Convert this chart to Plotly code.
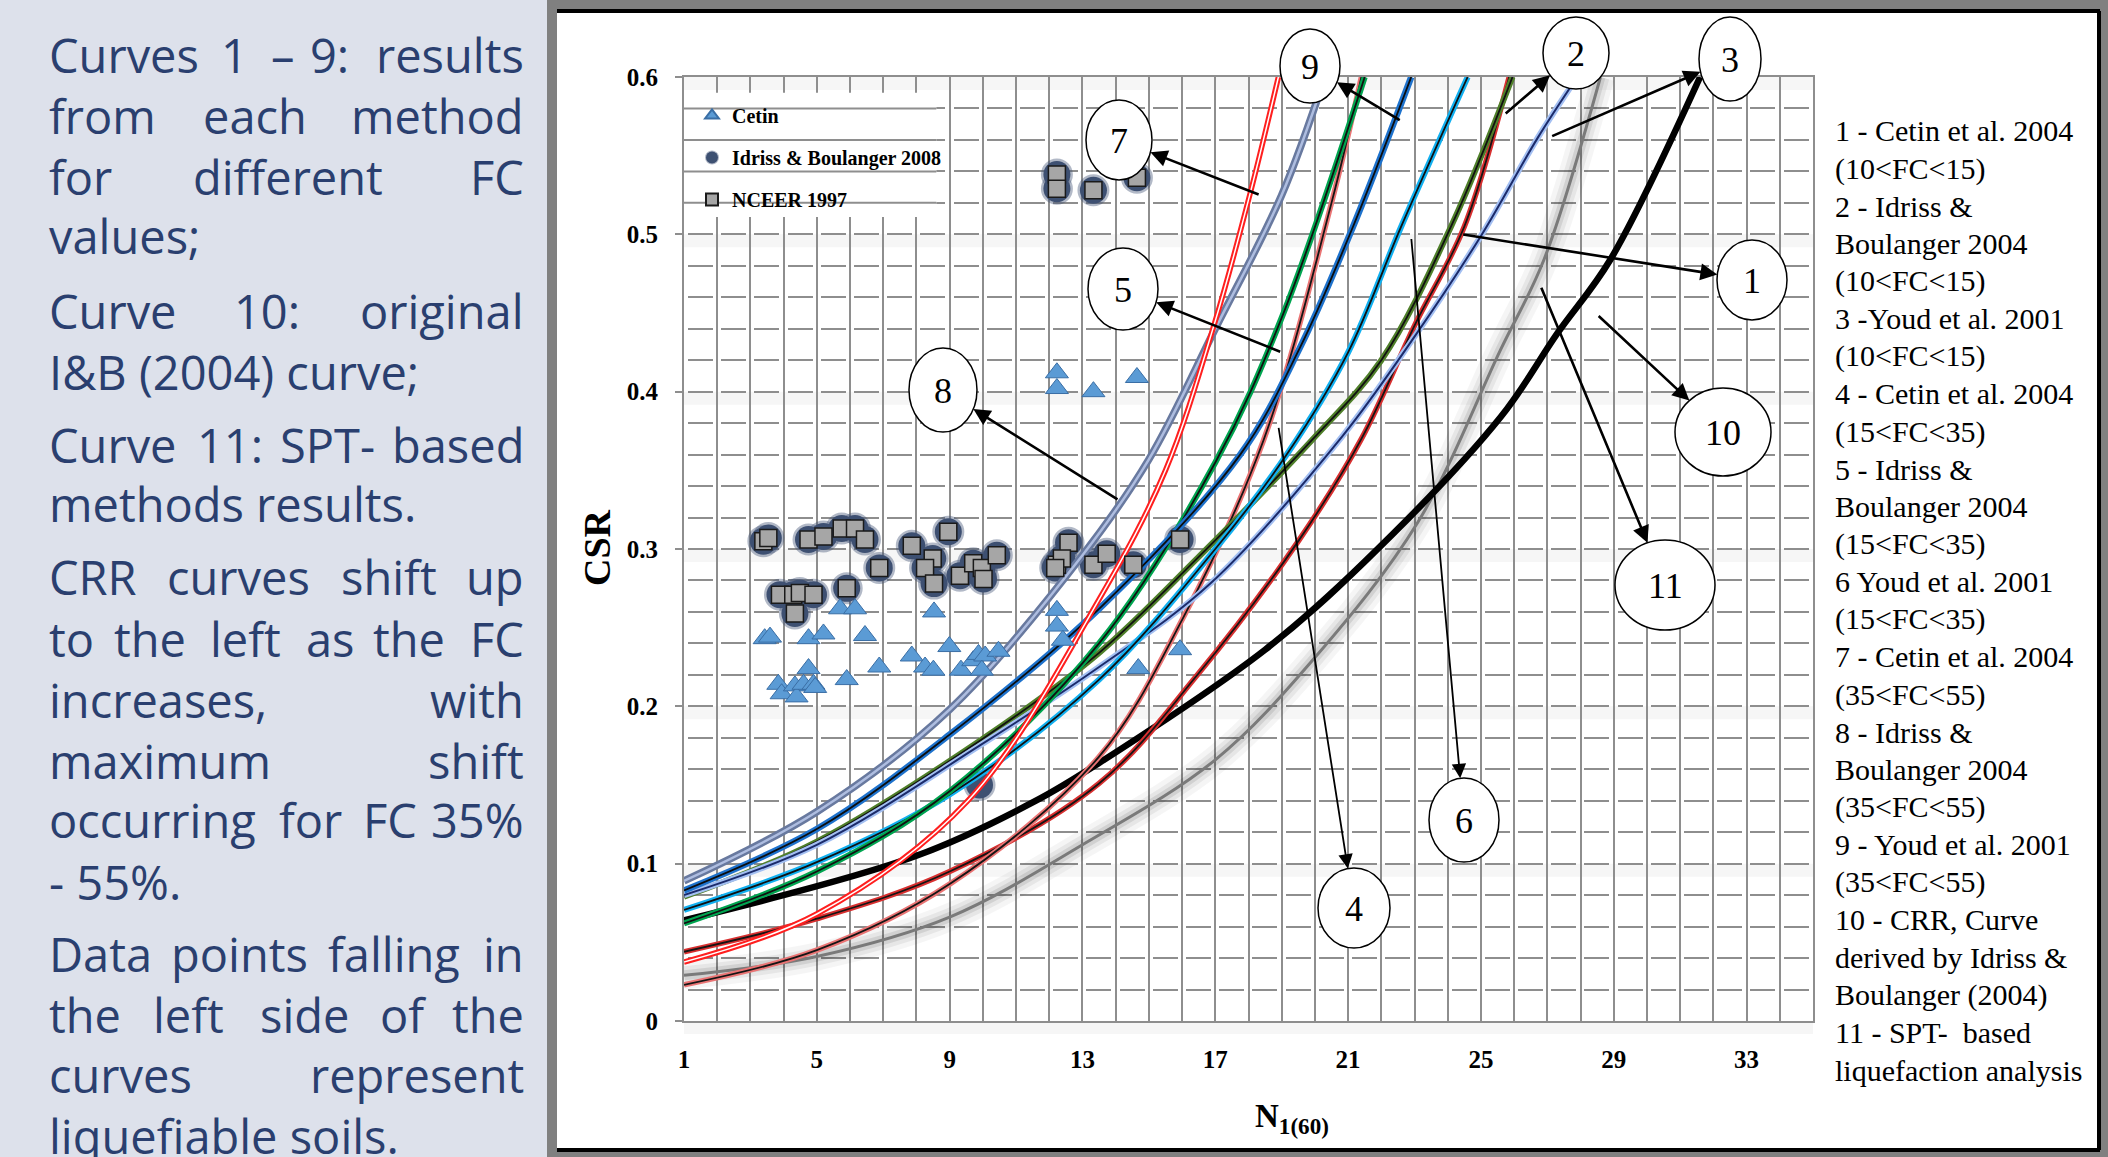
import math
import plotly.graph_objects as go

# ---------------- data ----------------
# curves: N1(60) vs CSR
c1_n = [1, 5, 9, 13.5, 16.5, 19.5, 21.4, 23.0, 24.5, 25.85]          # Cetin 10<FC<15
c1_csr = [0.044, 0.065, 0.095, 0.151, 0.221, 0.305, 0.370, 0.442, 0.505, 0.600]
c2_n = [1, 5, 9.9, 13.5, 16.5, 19.9, 22.0, 24.1, 25.95]              # I&B 10<FC<15
c2_csr = [0.079, 0.114, 0.178, 0.234, 0.295, 0.369, 0.420, 0.505, 0.600]
c3_n = [1, 5, 9.9, 13.5, 16.85, 20.8, 23.0, 25.0, 26.7, 27.9]        # Youd 10<FC<15
c3_csr = [0.080, 0.112, 0.175, 0.225, 0.278, 0.371, 0.435, 0.499, 0.561, 0.600]
c4_n = [1, 5, 9, 13.5, 16.0, 18.45, 20.5, 21.4]                      # Cetin 15<FC<35
c4_csr = [0.023, 0.045, 0.087, 0.168, 0.255, 0.369, 0.520, 0.600]
c5_n = [1, 5, 9, 13.5, 17.0, 19.0, 21.5]                             # I&B 15<FC<35
c5_csr = [0.062, 0.095, 0.146, 0.240, 0.355, 0.447, 0.600]
c6_n = [1, 5, 9, 13.5, 17.0, 19.15, 21.0, 22.6, 24.6]                # Youd 15<FC<35
c6_csr = [0.0706, 0.101, 0.144, 0.217, 0.300, 0.360, 0.425, 0.505, 0.600]
c7_n = [1, 5, 9.55, 13.5, 15.5, 17.0, 18.05, 18.9]                   # Cetin 35<FC<55
c7_csr = [0.0375, 0.068, 0.140, 0.268, 0.350, 0.445, 0.526, 0.600]
c8_n = [1, 5, 9, 13, 15, 17, 19, 20.3]                               # I&B 35<FC<55
c8_csr = [0.089, 0.133, 0.198, 0.296, 0.357, 0.440, 0.525, 0.600]
c9_n = [1, 5, 9, 13.5, 17.75, 19.55, 21.15, 22.9]                    # Youd 35<FC<55
c9_csr = [0.083, 0.122, 0.182, 0.262, 0.360, 0.428, 0.505, 0.600]
c10_n = [1, 8, 11.6, 13.5, 18.5, 21.5, 25.6, 27.3, 28.9, 31.6]       # CRR I&B 2004
c10_csr = [0.064, 0.105, 0.140, 0.164, 0.236, 0.292, 0.384, 0.437, 0.484, 0.600]
c11_n = [1, 5, 9, 13, 17, 20, 23.1, 25.6, 26.9, 28.6]                # SPT-based
c11_csr = [0.029, 0.041, 0.066, 0.112, 0.166, 0.231, 0.317, 0.427, 0.484, 0.600]

# data points
cetin_n = [3.43, 3.59, 4.75, 5.2, 5.7, 6.15, 6.45, 4.75, 3.84, 3.94, 4.34, 4.39, 4.6, 4.9, 4.95,
           5.9, 6.88, 7.86, 8.53, 8.99, 8.26, 8.51, 9.34, 9.71, 9.87, 10.07, 10.47, 9.97,
           12.23, 12.23, 12.41, 14.68, 15.94, 12.23, 12.23, 13.33, 14.64]
cetin_csr = [0.243, 0.244, 0.243, 0.246, 0.262, 0.262, 0.245, 0.224, 0.214, 0.208, 0.213, 0.206, 0.214,
             0.214, 0.212, 0.217, 0.225, 0.232, 0.260, 0.238, 0.225, 0.223, 0.223, 0.229, 0.233, 0.232,
             0.235, 0.223, 0.261, 0.251, 0.242, 0.224, 0.236, 0.412, 0.402, 0.400, 0.409]
nceer_n = [3.39, 3.54, 4.75, 5.2, 5.75, 6.15, 6.45, 6.88, 7.86, 8.96, 8.49, 8.26, 8.53, 9.31, 9.71,
           9.97, 10.02, 10.42, 3.89, 4.29, 4.49, 4.9, 4.34, 5.9, 12.23, 12.58, 12.38, 12.18, 13.33,
           13.73, 15.94, 14.53, 12.23, 12.23, 13.33, 14.64]
nceer_csr = [0.305, 0.307, 0.306, 0.308, 0.313, 0.313, 0.306, 0.288, 0.302, 0.311, 0.294, 0.288, 0.278,
             0.283, 0.291, 0.288, 0.281, 0.296, 0.271, 0.271, 0.272, 0.271, 0.259, 0.275, 0.290, 0.304,
             0.294, 0.288, 0.290, 0.297, 0.306, 0.290, 0.538, 0.529, 0.528, 0.536]
ib_n = nceer_n + [9.9]
ib_csr = nceer_csr + [0.150]

x_ticks = [1, 5, 9, 13, 17, 21, 25, 29, 33]
y_ticks = [0, 0.1, 0.2, 0.3, 0.4, 0.5, 0.6]

# callouts: label, tail point on curve (N, CSR)
callout_labels = ["1", "2", "3", "4", "5", "6", "7", "8", "9", "10", "11"]
callout_tail_n = [24.42, 25.7, 27.1, 18.9, 19.0, 22.9, 18.35, 14.1, 22.6, 28.5, 26.8]
callout_tail_csr = [0.500, 0.576, 0.562, 0.378, 0.425, 0.498, 0.525, 0.331, 0.572, 0.449, 0.467]

legend_lines = [
    "1 - Cetin et al. 2004", "(10&lt;FC&lt;15)", "2 - Idriss &amp;", "Boulanger 2004", "(10&lt;FC&lt;15)",
    "3 -Youd et al. 2001", "(10&lt;FC&lt;15)", "4 - Cetin et al. 2004", "(15&lt;FC&lt;35)",
    "5 - Idriss &amp;", "Boulanger 2004", "(15&lt;FC&lt;35)", "6 Youd et al. 2001", "(15&lt;FC&lt;35)",
    "7 - Cetin et al. 2004", "(35&lt;FC&lt;55)", "8 - Idriss &amp;", "Boulanger 2004", "(35&lt;FC&lt;55)",
    "9 - Youd et al. 2001", "(35&lt;FC&lt;55)", "10 - CRR, Curve", "derived by Idriss &amp;",
    "Boulanger (2004)", "11 - SPT-  based", "liquefaction analysis",
]

# ---------------- geometry / styles ----------------
W, H = 2108, 1157
L, R, T, B = 684, 1813, 77, 1021
XMIN, XMAX, YMIN, YMAX = 1, 35, 0, 0.6
GRID = "#8e8e8e"


def pxp(X):
    return (X - L) / (R - L)


def pyp(Y):
    return (B - Y) / (B - T)


def d2px(n, c):
    return L + (n - XMIN) / (XMAX - XMIN) * (R - L), B - (c - YMIN) / (YMAX - YMIN) * (B - T)


fig = go.Figure()

# I&B circles (under the curves)
fig.add_trace(go.Scatter(
    x=ib_n, y=ib_csr, mode="markers", name="<b>Idriss &amp; Boulanger 2008</b>",
    legendgroup="b", legendrank=2, hoverinfo="skip",
    marker=dict(symbol="circle", size=27, color="#3e5172",
                line=dict(color="rgba(62,81,114,0.40)", width=5))))

curve_defs = [
    (c11_n, c11_csr, [("rgba(0,0,0,0.04)", 28), ("rgba(0,0,0,0.06)", 18), ("rgba(0,0,0,0.09)", 10), ("#7a7a7a", 3)]),
    (c10_n, c10_csr, [("#000000", 6.5)]),
    (c1_n, c1_csr, [("#d83030", 5.5), ("#151515", 1.8)]),
    (c4_n, c4_csr, [("#ea7474", 5.5), ("#151515", 1.8)]),
    (c2_n, c2_csr, [("#4f7f2a", 6), ("#111111", 1.8)]),
    (c3_n, c3_csr, [("#a3bff2", 6), ("#1b2b6b", 2)]),
    (c6_n, c6_csr, [("#12b0f0", 6), ("#111111", 1.8)]),
    (c5_n, c5_csr, [("#00a550", 6), ("#111111", 1.8)]),
    (c9_n, c9_csr, [("#1e72cc", 6.5), ("#0d0d0d", 1.8)]),
    (c8_n, c8_csr, [("#68799f", 7.5), ("#aebde0", 2.5)]),
    (c7_n, c7_csr, [("#ff1f1f", 5.5), ("#ffffff", 1.5)]),
]
for xs, ys, layers in curve_defs:
    for col, wd in layers:
        fig.add_trace(go.Scatter(x=xs, y=ys, mode="lines", showlegend=False, hoverinfo="skip",
                                 line=dict(color=col, width=wd, shape="spline", smoothing=1.0)))

fig.add_trace(go.Scatter(
    x=nceer_n, y=nceer_csr, mode="markers", name="<b>NCEER 1997</b>",
    legendgroup="c", legendrank=3, hoverinfo="skip",
    marker=dict(symbol="square", size=17, color="#a6a6a6", line=dict(color="#1a1a1a", width=1.5))))
fig.add_trace(go.Scatter(
    x=cetin_n, y=cetin_csr, mode="markers", name="<b>Cetin</b>",
    legendgroup="a", legendrank=1, hoverinfo="skip",
    marker=dict(symbol="triangle-up", size=20, color="#5b9bd5", line=dict(color="#3a6ea5", width=1))))

shapes = []
# page background pieces
shapes.append(dict(type="rect", xref="paper", yref="paper", x0=pxp(0), x1=pxp(548), y0=pyp(0), y1=pyp(H),
                   fillcolor="#dde1eb", line=dict(width=0), layer="below"))
shapes.append(dict(type="rect", xref="paper", yref="paper", x0=pxp(547), x1=pxp(W), y0=pyp(0), y1=pyp(H),
                   fillcolor="#808080", line=dict(width=0), layer="below"))
shapes.append(dict(type="rect", xref="paper", yref="paper", x0=pxp(557), x1=pxp(2100), y0=pyp(10), y1=pyp(1151),
                   fillcolor="#ffffff", line=dict(width=0), layer="below"))
for (xa, ya, xb, yb) in [(557, 11, 2100, 11), (557, 1150, 2100, 1150), (2099, 11, 2099, 1150)]:
    shapes.append(dict(type="line", xref="paper", yref="paper", x0=pxp(xa), y0=pyp(ya), x1=pxp(xb), y1=pyp(yb),
                       line=dict(color="#000000", width=4), layer="below"))
# very pale bands below major horizontal lines
for yv in y_ticks:
    _, yp = d2px(XMIN, yv)
    shapes.append(dict(type="rect", xref="paper", yref="paper", x0=0, x1=1, y0=pyp(yp + 13), y1=pyp(yp),
                       fillcolor="#f6f6f6", line=dict(width=0), layer="below"))
# legend area: hides vertical grid, keeps horizontal grid
shapes.append(dict(type="rect", xref="x", yref="y", x0=1.1, x1=8.6, y0=0.511, y1=0.590,
                   fillcolor="#ffffff", line=dict(width=0), layer="between"))
for yv in [0.52, 0.54, 0.56, 0.58]:
    shapes.append(dict(type="line", xref="x", yref="y", x0=1, x1=8.6, y0=yv, y1=yv,
                       line=dict(color=GRID, width=2), layer="between"))

annotations = []
# callout circles + arrows
circle_px = [(1752, 280, 35, 40), (1576, 53, 33, 36), (1730, 59, 31, 42), (1354, 908, 36, 40),
             (1123, 289, 35, 41), (1464, 820, 35, 42), (1119, 140, 33, 40), (943, 390, 34, 42),
             (1310, 66, 30, 37), (1723, 432, 48, 44), (1665, 585, 50, 45)]
for lab, tn, tc, (cx, cy, rx, ry) in zip(callout_labels, callout_tail_n, callout_tail_csr, circle_px):
    shapes.append(dict(type="circle", xref="paper", yref="paper", x0=pxp(cx - rx), x1=pxp(cx + rx),
                       y0=pyp(cy + ry), y1=pyp(cy - ry), fillcolor="#ffffff",
                       line=dict(color="#000000", width=1.5), layer="above"))
    annotations.append(dict(text=lab, x=pxp(cx), y=pyp(cy + 1), xref="paper", yref="paper",
                            showarrow=False, xanchor="center", yanchor="middle",
                            font=dict(family="Liberation Serif", size=36, color="#000000")))
    tx, ty = d2px(tn, tc)
    dx, dy = tx - cx, ty - cy
    t = 1.0 / math.sqrt((dx / rx) ** 2 + (dy / ry) ** 2)
    hx, hy = cx + dx * t, cy + dy * t
    thin = lab in ("4", "6")
    annotations.append(dict(text="", x=pxp(hx), y=pyp(hy), xref="paper", yref="paper",
                            ax=tx - hx, ay=ty - hy, axref="pixel", ayref="pixel",
                            showarrow=True, arrowhead=2, arrowsize=1.3 if not thin else 1.6,
                            arrowwidth=1.8 if thin else 2.6, arrowcolor="#000000",
                            standoff=0, startstandoff=0))

# right-hand description text
for k, line in enumerate(legend_lines):
    annotations.append(dict(text=line, x=pxp(1833), y=pyp(131 + 37.57 * k), xref="paper", yref="paper",
                            showarrow=False, xanchor="left", yanchor="middle",
                            font=dict(family="Liberation Serif", size=30, color="#000000")))

# axis titles
annotations.append(dict(text="<b>CSR</b>", x=pxp(597), y=pyp(548), xref="paper", yref="paper",
                        showarrow=False, textangle=-90, xanchor="center", yanchor="middle",
                        font=dict(family="Liberation Serif", size=38, color="#000000")))
annotations.append(dict(text="<b>N<sub>1(60)</sub></b>", x=pxp(1292), y=pyp(1118), xref="paper", yref="paper",
                        showarrow=False, xanchor="center", yanchor="middle",
                        font=dict(family="Liberation Serif", size=33, color="#000000")))

# left-panel text (justified lines reproduced word by word)
left_lines = [
    (73, [("Curves", 48, "l"), ("1", 220, "l"), ("–", 270, "l"), ("9:", 309, "l"), ("results", 525, "r")]),
    (134, [("from", 48, "l"), ("each", 202, "l"), ("method", 525, "r")]),
    (195, [("for", 48, "l"), ("different", 192, "l"), ("FC", 525, "r")]),
    (254, [("values;", 48, "l")]),
    (329, [("Curve", 48, "l"), ("10:", 233, "l"), ("original", 525, "r")]),
    (390, [("I&amp;B (2004) curve;", 48, "l")]),
    (463, [("Curve", 48, "l"), ("11:", 196, "l"), ("SPT-", 279, "l"), ("based", 525, "r")]),
    (522, [("methods results.", 48, "l")]),
    (595, [("CRR", 48, "l"), ("curves", 166, "l"), ("shift", 340, "l"), ("up", 525, "r")]),
    (657, [("to", 48, "l"), ("the", 113, "l"), ("left", 209, "l"), ("as", 305, "l"), ("the", 372, "l"), ("FC", 525, "r")]),
    (718, [("increases,", 48, "l"), ("with", 525, "r")]),
    (779, [("maximum", 48, "l"), ("shift", 525, "r")]),
    (838, [("occurring", 48, "l"), ("for", 278, "l"), ("FC", 362, "l"), ("35%", 525, "r")]),
    (900, [("- 55%.", 48, "l")]),
    (972, [("Data", 48, "l"), ("points", 170, "l"), ("falling", 327, "l"), ("in", 525, "r")]),
    (1033, [("the", 48, "l"), ("left", 152, "l"), ("side", 259, "l"), ("of", 379, "l"), ("the", 525, "r")]),
    (1093, [("curves", 48, "l"), ("represent", 525, "r")]),
    (1154, [("liquefiable soils.", 48, "l")]),
]
for base, words in left_lines:
    for wtxt, wx, al in words:
        annotations.append(dict(text=wtxt, x=pxp(wx), y=pyp(base - 18), xref="paper", yref="paper",
                                showarrow=False, xanchor="left" if al == "l" else "right", yanchor="middle",
                                borderpad=0,
                                font=dict(family="Open Sans", size=47, color="#2a3f6f")))

hdash = "0px,4px,25px,4.2px"
fig.update_layout(
    width=W, height=H,
    margin=dict(l=L, r=W - R, t=T, b=H - B, pad=0),
    paper_bgcolor="#ffffff", plot_bgcolor="#ffffff",
    shapes=shapes, annotations=annotations,
    showlegend=True,
    legend=dict(x=pxp(692), y=pyp(96), xanchor="left", yanchor="top", bgcolor="rgba(0,0,0,0)",
                borderwidth=0, traceorder="grouped", tracegroupgap=13, itemsizing="constant",
                itemwidth=30,
                font=dict(family="Liberation Serif", size=20, color="#000000")),
    xaxis=dict(range=[XMIN, XMAX], tickmode="array", tickvals=x_ticks, ticktext=[str(v) for v in x_ticks],
               showgrid=True, gridcolor=GRID, gridwidth=2,
               minor=dict(tickmode="linear", tick0=1, dtick=1, showgrid=True, gridcolor=GRID, gridwidth=2),
               showline=True, linecolor=GRID, linewidth=2, mirror=True, zeroline=False, ticks="",
               ticklabelstandoff=15,
               tickfont=dict(family="Liberation Serif", size=25, color="#000000", weight="bold")),
    yaxis=dict(range=[YMIN, YMAX], tickmode="array", tickvals=y_ticks, ticktext=["0", "0.1", "0.2", "0.3", "0.4", "0.5", "0.6"],
               showgrid=True, gridcolor=GRID, gridwidth=2, griddash=hdash,
               minor=dict(tickmode="linear", tick0=0, dtick=0.02, showgrid=True, gridcolor=GRID, gridwidth=2,
                          griddash=hdash),
               showline=True, linecolor=GRID, linewidth=2, mirror=True, zeroline=False,
               ticks="outside", ticklen=7, tickwidth=2, tickcolor=GRID, ticklabelstandoff=12,
               tickfont=dict(family="Liberation Serif", size=25, color="#000000", weight="bold")),
)

fig.write_html("out.html")
